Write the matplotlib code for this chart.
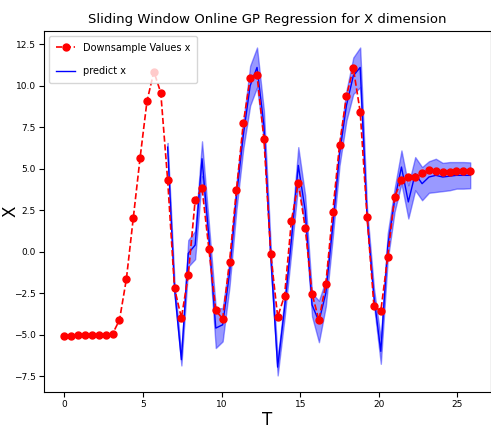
import matplotlib
matplotlib.use("Agg")
import matplotlib.pyplot as plt
import numpy as np

# downsampled x values, one every 0.4375 s
T = np.arange(60) * 0.4375
x_down = [-5.06, -5.06, -5.02, -5.02, -5.02, -5.02, -5.02, -4.94, -4.11, -1.65,
          2.01, 5.67, 9.07, 10.85, 9.58, 4.34, -2.20, -3.99, -1.41, 3.09,
          3.85, 0.16, -3.53, -4.05, -0.60, 3.69, 7.74, 10.45, 10.63, 6.80,
          -0.16, -3.91, -2.66, 1.88, 4.14, 1.45, -2.52, -4.13, -1.95, 2.38,
          6.45, 9.38, 11.05, 8.43, 2.12, -3.27, -3.57, -0.30, 3.29, 4.30,
          4.50, 4.48, 4.74, 4.90, 4.84, 4.82, 4.80, 4.86, 4.84, 4.86]

# GP prediction starts at sample 15
pred_start = 15
pred_mean = [6.3, -2.2, -6.5, -0.1, 0.4, 5.6, 0.9, -4.6, -4.4, -1.3,
             3.3, 7.0, 10.0, 11.1, 7.6, -0.3, -6.95, -3.4, 0.7, 5.2,
             2.5, -3.2, -4.2, -2.5, 1.5, 5.9, 8.8, 10.6, 11.1, 2.1,
             -2.7, -6.0, 0.3, 3.1, 5.1, 3.0, 4.7, 4.1, 4.5, 4.6,
             4.5, 4.55, 4.6, 4.6, 4.6]
pred_err = [0.25, 0.4, 0.35, 0.8, 0.85, 1.05, 0.8, 1.2, 1.0, 0.8,
            0.8, 0.8, 1.2, 1.2, 0.9, 0.6, 0.5, 0.6, 0.7, 1.1,
            0.9, 0.7, 1.25, 0.8, 0.7, 0.7, 0.9, 1.1, 1.2, 0.5,
            0.5, 0.75, 0.8, 0.7, 1.0, 1.0, 1.0, 1.0, 0.95, 1.0,
            0.85, 0.85, 0.8, 0.8, 0.78]

T_pred = T[pred_start:]
mean = np.array(pred_mean)
err = np.array(pred_err)

fig = plt.figure(figsize=(4.91, 4.32), dpi=100)
ax = fig.add_axes([0.09, 0.093, 0.909, 0.835])

ax.plot(T, x_down, 'r--', marker='o', markersize=5, linewidth=1.2,
        label='Downsample Values x', zorder=3)
ax.plot(T_pred, mean, 'b-', linewidth=1, label='predict x')
ax.fill_between(T_pred, mean - err, mean + err, color='b', alpha=0.4)

ax.set_title('Sliding Window Online GP Regression for X dimension', fontsize=9.5)
ax.set_xlabel('T', fontsize=12, labelpad=1)
ax.set_ylabel('X', fontsize=12)
ax.yaxis.set_label_coords(-0.056, 0.5)
ax.tick_params(labelsize=6.5, pad=2.5)
ax.legend(loc='upper left', fontsize=7, labelspacing=1.4, borderpad=0.7)

fig.savefig('out.png', dpi=100)
